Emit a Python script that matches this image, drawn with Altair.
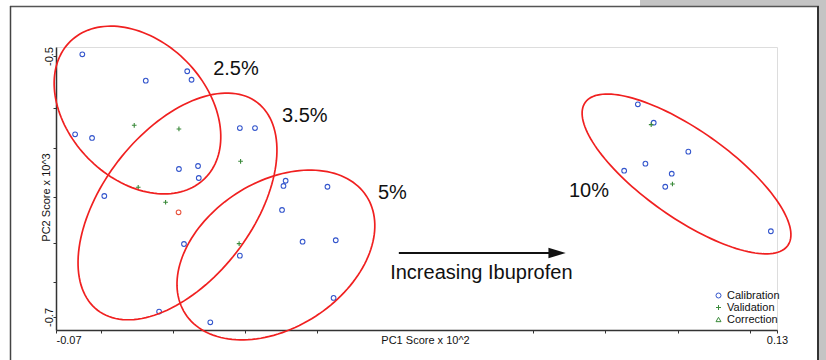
import math
import pandas as pd
import altair as alt

# ---------------- data ----------------
cal_x = [-0.0627, -0.0451, -0.0336, -0.0324, -0.0647, -0.0600, -0.0190, -0.0148,
         -0.0306, -0.0359, -0.0304, -0.0566, -0.0063, -0.0069, 0.0053, -0.0073,
         -0.0345, -0.0190, -0.0016, 0.0076, 0.0070, -0.0414, -0.0272,
         0.0914, 0.0958, 0.1054, 0.0935, 0.0876, 0.1008, 0.0990, 0.1283]
cal_y = [-0.4987, -0.5189, -0.5117, -0.5182, -0.5600, -0.5628, -0.5552, -0.5552,
         -0.5843, -0.5866, -0.5935, -0.6073, -0.5956, -0.5996, -0.6002, -0.6180,
         -0.6441, -0.6530, -0.6423, -0.6412, -0.6854, -0.6959, -0.7041,
         -0.5370, -0.5511, -0.5733, -0.5825, -0.5879, -0.5902, -0.6002, -0.6343]

val_x = [-0.0483, -0.0359, -0.0188, -0.0472, -0.0396, -0.0192, 0.0951, 0.1010]
val_y = [-0.5531, -0.5559, -0.5807, -0.6006, -0.6121, -0.6438, -0.5526, -0.5981]

odd_x = [-0.0360]
odd_y = [-0.6198]

series_names = ["Calibration", "Validation", "Correction"]

# confidence ellipses: centre (data units), semi-axes (screen px), tilt (deg)
ell_names = ["2.5%", "3.5%", "5%", "10%"]
ell_cx = [-0.0474, -0.0363, -0.0090, 0.1049]
ell_cy = [-0.5414, -0.6153, -0.6525, -0.5904]
ell_a = [96.0, 131.0, 108.0, 124.0]
ell_b = [69.0, 74.7, 73.0, 43.7]
ell_angle = [-45.6, 52.4, 33.0, -35.2]

# annotations
ann_text = ["2.5%", "3.5%", "5%", "10%", "Increasing Ibuprofen"]
ann_x = [-0.0264, -0.0073, 0.0193, 0.0723, 0.0227]
ann_y = [-0.5146, -0.5506, -0.6096, -0.6080, -0.6709]

arrow_x = [0.0251]
arrow_x2 = [0.0690]
arrow_head_x = [0.0690]
arrow_y = [-0.6510]

x_ticks = [-0.07, -0.0576, -0.0376, -0.0176, 0.0024, 0.0624, 0.0824, 0.1024, 0.1224, 0.13]
x_tick_labels = ["-0.07", "", "", "", "", "", "", "", "", "0.13"]
y_ticks = [-0.5, -0.54, -0.5705, -0.608, -0.6433, -0.6732, -0.7]
y_tick_labels = ["-0.5", "", "", "", "", "", "-0.7"]

# ---------------- layout ----------------
W, H = 721, 283
X_DOMAIN = [-0.07, 0.13]
Y_DOMAIN = [-0.7100, -0.4931]
PX_X = W / (X_DOMAIN[1] - X_DOMAIN[0])
PX_Y = H / (Y_DOMAIN[1] - Y_DOMAIN[0])

FONT = "Liberation Sans"
BLUE = "#3355cc"
GREEN = "#3a8a3a"
RED = "#f02020"
PLUS = "M-1,0L1,0M0,-1L0,1"


def expr_for(values, labels):
    parts = []
    for v, lab in zip(values, labels):
        if lab:
            parts.append(f"abs(datum.value - ({v})) < 1e-6 ? '{lab}'")
    return " : ".join(parts) + " : ''"


pts = pd.DataFrame({
    "x": cal_x + val_x,
    "y": cal_y + val_y,
    "series": ["Calibration"] * len(cal_x) + ["Validation"] * len(val_x),
})
odd = pd.DataFrame({"x": odd_x, "y": odd_y})

rows = []
for name, cx, cy, a, b, ang in zip(ell_names, ell_cx, ell_cy, ell_a, ell_b, ell_angle):
    th = math.radians(ang)
    for k in range(145):
        t = 2 * math.pi * k / 144
        dx = a * math.cos(th) * math.cos(t) - b * math.sin(th) * math.sin(t)
        dy = a * math.sin(th) * math.cos(t) + b * math.cos(th) * math.sin(t)
        rows.append({"grp": name, "i": k, "x": cx + dx / PX_X, "y": cy + dy / PX_Y})
ell = pd.DataFrame(rows)

ann = pd.DataFrame({"x": ann_x, "y": ann_y, "t": ann_text})
arrow = pd.DataFrame({"x": arrow_x, "x2": arrow_x2, "y": arrow_y})
head = pd.DataFrame({"x": arrow_head_x, "y": arrow_y})

xscale = alt.Scale(domain=X_DOMAIN, nice=False, zero=False)
yscale = alt.Scale(domain=Y_DOMAIN, nice=False, zero=False)

xaxis = alt.Axis(
    values=x_ticks, labelExpr=expr_for(x_ticks, x_tick_labels), labelOverlap=False,
    labelAlign={"condition": {"test": "datum.value < 0", "value": "left"}, "value": "center"},
    labelBaseline="top", labelPadding=1, labelFontSize=11, labelColor="#111", labelFont=FONT,
    tickSize=3, tickColor="#333", domainColor="#333", domainWidth=1.5, grid=False,
    title="PC1 Score x 10^2", titleFontSize=11, titleFontWeight="normal", titleFont=FONT,
    titleColor="#111", titleX=369, titleY=4, titleBaseline="top", titleAlign="center",
)
yaxis = alt.Axis(
    values=y_ticks, labelExpr=expr_for(y_ticks, y_tick_labels), labelOverlap=False,
    labelAngle=270, labelAlign="center", labelBaseline="alphabetic", labelPadding=1,
    labelFontSize=11, labelColor="#111", labelFont=FONT,
    tickSize=3, tickColor="#333", domainColor="#333", domainWidth=1.5, grid=False,
    title="PC2 Score x 10^3", titleFontSize=11, titleFontWeight="normal", titleFont=FONT,
    titleColor="#111", titleAngle=270, titleX=-10, titleY=150, titleBaseline="middle",
    titleAlign="center",
)

X = alt.X("x:Q", scale=xscale, axis=xaxis)
Y = alt.Y("y:Q", scale=yscale, axis=yaxis)

legend = alt.Legend(
    title=None, orient="none", legendX=657, legendY=243, labelFontSize=11, labelFont=FONT,
    labelColor="#111", symbolSize=25, symbolStrokeWidth=1, rowPadding=0, labelOffset=3,
    padding=0,
)

points = alt.Chart(pts).mark_point(filled=False, size=22, strokeWidth=1.1, opacity=1).encode(
    x=X, y=Y,
    color=alt.Color("series:N", scale=alt.Scale(domain=series_names, range=[BLUE, GREEN, GREEN]), legend=legend),
    shape=alt.Shape("series:N", scale=alt.Scale(domain=series_names, range=["circle", PLUS, "triangle-up"]), legend=legend),
)

odd_pt = alt.Chart(odd).mark_point(filled=False, size=22, strokeWidth=1.1, opacity=1, color="#e8503a").encode(
    x=X, y=Y
)

ellipses = alt.Chart(ell).mark_line(color=RED, strokeWidth=1.7).encode(
    x=X, y=Y, detail="grp:N", order="i:Q"
)

texts = alt.Chart(ann).mark_text(align="left", baseline="alphabetic", fontSize=20, font=FONT, color="#111").encode(
    x=X, y=Y, text="t:N"
)

arrow_line = alt.Chart(arrow).mark_rule(color="#111", strokeWidth=2).encode(x=X, x2="x2:Q", y=Y)
arrow_head = alt.Chart(head).mark_point(shape="M-1,-0.6L1,0L-1,0.6Z", size=300, filled=True, color="#111", opacity=1).encode(
    x=X, y=Y
)

# decorative frame around the figure
deco = pd.DataFrame({"k": [0]})
gray_top = alt.Chart(deco).mark_rect(color="#c4c4c4").encode(
    x=alt.value(584), x2=alt.value(770), y=alt.value(-47), y2=alt.value(-41))
gray_right = alt.Chart(deco).mark_rect(color="#c4c4c4").encode(
    x=alt.value(763), x2=alt.value(770), y=alt.value(-47), y2=alt.value(313))
frame_top = alt.Chart(deco).mark_rule(color="#555", strokeWidth=1.5).encode(
    x=alt.value(-46), x2=alt.value(763), y=alt.value(-40.5))
frame_left = alt.Chart(deco).mark_rule(color="#444", strokeWidth=1.5).encode(
    x=alt.value(-45.5), y=alt.value(-41), y2=alt.value(313))
frame_right = alt.Chart(deco).mark_rule(color="#333", strokeWidth=2).encode(
    x=alt.value(762), y=alt.value(-41), y2=alt.value(313))

chart = alt.layer(
    points, gray_top, gray_right, frame_top, frame_left, frame_right,
    ellipses, odd_pt, arrow_line, arrow_head, texts,
).properties(
    width=W, height=H,
    autosize=alt.AutoSizeParams(type="none"),
    padding={"left": 56, "top": 47, "right": 49, "bottom": 30},
).configure_view(stroke=None).configure(background="white", font=FONT)

chart.save("out.html", embed_options={"renderer": "svg", "actions": False})
